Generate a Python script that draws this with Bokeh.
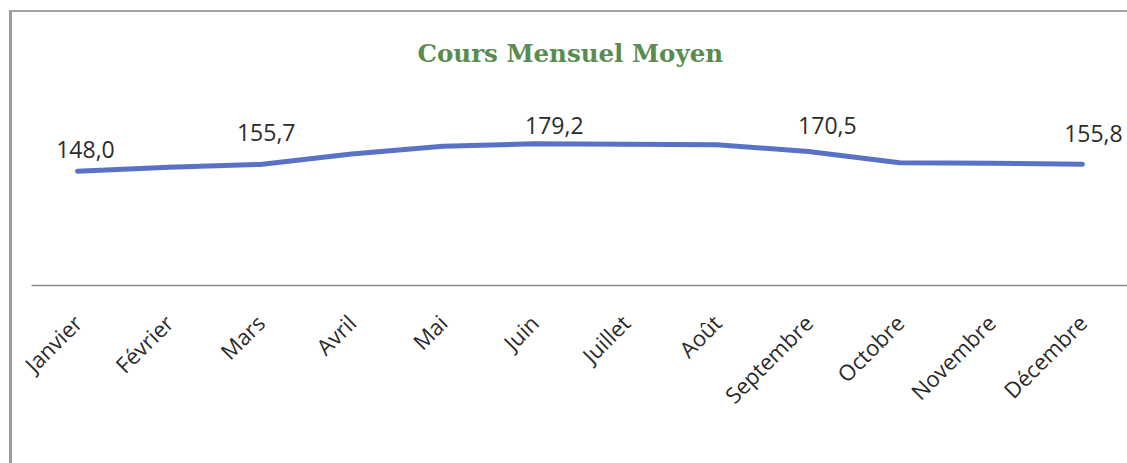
import numpy as np
from bokeh.plotting import figure
from bokeh.models import ColumnDataSource, LabelSet, FixedTicker, Range1d
from bokeh.core.properties import value
from bokeh.embed import file_html
from bokeh.resources import INLINE

# ---- data ----
months = ["Janvier", "Février", "Mars", "Avril", "Mai", "Juin", "Juillet",
          "Août", "Septembre", "Octobre", "Novembre", "Décembre"]
cours = [148.0, 152.5, 155.7, 167.5, 176.5, 179.2, 178.8, 178.0, 170.5, 157.5, 157.0, 155.8]
labelled_months = ["Janvier", "Mars", "Juin", "Septembre", "Décembre"]

# ---- layout / style ----
label_dx = [8, 6, 20, 19, 11]
label_dy = [13, 23, 10, 17, 22]

xs = list(range(len(months)))
src = ColumnDataSource(dict(x=xs, y=cours))

lab_idx = [months.index(m) for m in labelled_months]
lab_src = ColumnDataSource(dict(
    x=[xs[i] for i in lab_idx],
    y=[cours[i] for i in lab_idx],
    t=[f"{cours[i]:.1f}".replace(".", ",") for i in lab_idx],
    dx=label_dx, dy=label_dy,
))

p = figure(width=1127, height=463, output_backend="svg", toolbar_location=None,
           x_range=Range1d(-0.5035, 11.493), y_range=Range1d(17.8, 251.3),
           min_border_left=31, min_border_right=0, min_border_top=80,
           min_border_bottom=178)
p.border_fill_color = None
p.background_fill_color = None
p.styles = {
    "background": ("linear-gradient(#a4a4a4, #a4a4a4) 10px 10px / 1117px 2px no-repeat, "
                   "linear-gradient(#9a9a9a, #9a9a9a) 9px 10px / 3px 453px no-repeat, #ffffff"),
}

p.title.text = "Cours Mensuel Moyen"
p.title.align = "left"
p.title.offset = 386
p.title.text_font = "DejaVu Serif"
p.title.text_font_style = "bold"
p.title.text_font_size = "24.5px"
p.title.text_color = "#5a8c50"
p.title.standoff = 25

p.line("x", "y", source=src, line_width=5, line_color="#5a72c6",
       line_cap="round", line_join="round")

labels = LabelSet(x="x", y="y", text="t", source=lab_src, x_offset="dx", y_offset="dy",
                  text_align="center", text_baseline="alphabetic",
                  text_font=value("Open Sans"), text_font_size=value("23px"),
                  text_color="#2b2b2b")
p.add_layout(labels)

p.yaxis.visible = False
p.grid.visible = False
p.outline_line_color = None

ax = p.xaxis[0]
ax.ticker = FixedTicker(ticks=xs)
ax.major_label_overrides = {i: m for i, m in zip(xs, months)}
ax.major_label_orientation = np.pi / 4
ax.major_label_text_font = "Open Sans"
ax.major_label_text_font_size = "22px"
ax.major_label_text_color = "#2b2b2b"
ax.major_label_standoff = 27
ax.major_tick_line_color = None
ax.minor_tick_line_color = None
ax.axis_line_color = "#8a8a8a"
ax.axis_line_width = 1.5

open("out.html", "w").write(file_html(p, INLINE))
